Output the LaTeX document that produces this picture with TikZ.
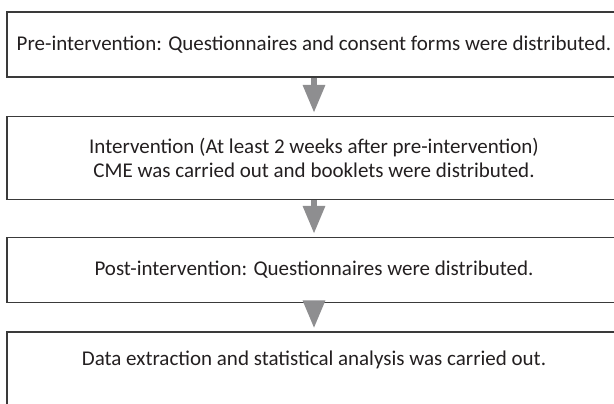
\documentclass[tikz,border=0pt]{standalone}
\usepackage{fontspec}
\setmainfont{Carlito}
\usetikzlibrary{arrows.meta}
\definecolor{boxline}{HTML}{3A3A3A}
\definecolor{txt}{HTML}{231F20}
\definecolor{arrowgray}{HTML}{8E8E90}
\tikzset{
  stepbox/.style={draw=boxline, line width=1.2bp, minimum width=614bp,
    align=center, text=txt, font=\fontsize{21bp}{24bp}\selectfont,
    inner sep=0pt},
  steptext/.style={align=center, text=txt,
    font=\fontsize{21bp}{24bp}\selectfont, inner sep=0pt},
  flowarrow/.style={draw=arrowgray, line width=6bp,
    -{Triangle[width=21bp,length=28bp]}, shorten >=3bp}
}
\begin{document}
\begin{tikzpicture}[x=1bp,y=-1bp]
  \useasboundingbox (0,0) rectangle (614,403);
  \clip (0,0) rectangle (614,403);
  \node[stepbox, minimum height=65bp] (pre) at (314,44.5)
    {Pre-intervention: Questionnaires and consent forms were distributed.};
  \node[stepbox, minimum height=83bp] (int) at (314,158)
    {Intervention (At least 2 weeks after pre-intervention)\\
     CME was carried out and booklets were distributed.};
  \node[stepbox, minimum height=65bp] (post) at (314,270)
    {Post-intervention: Questionnaires were distributed.};
  % the last box runs on past the lower edge
  \node[stepbox, minimum height=90bp] (dataframe) at (314,377) {};
  \node[steptext] (data) at (314,360)
    {Data extraction and statistical analysis was carried out.};
  \draw[flowarrow] (pre.south) -- (int.north);
  \draw[flowarrow] (int.south) -- (post.north);
  \draw[flowarrow] (post.south) -- (dataframe.north);
\end{tikzpicture}
\end{document}
